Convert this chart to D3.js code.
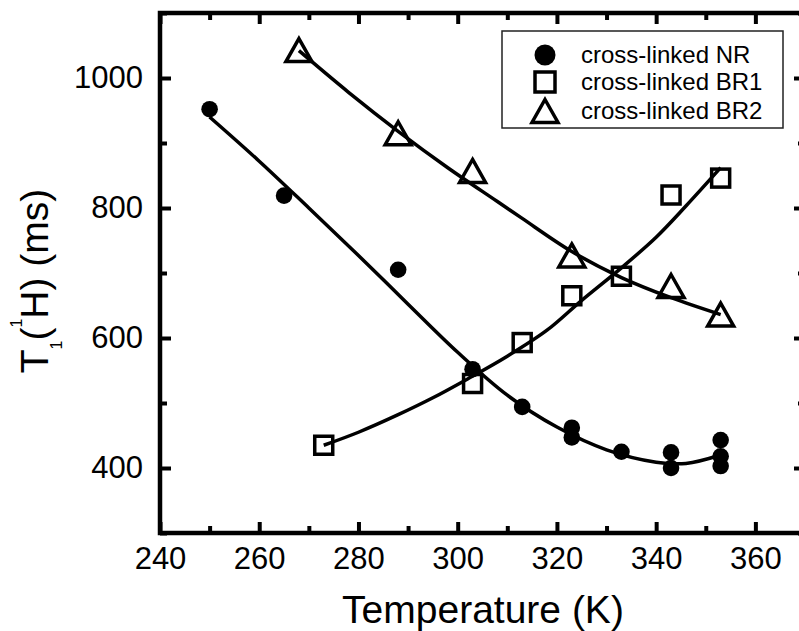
<!DOCTYPE html>
<html lang="en">
<head>
<meta charset="UTF-8">
<title>T1(1H) vs Temperature</title>
<script src="https://d3js.org/d3.v7.min.js"></script>
<style>
  body { margin: 0; background: #fff; }
  svg { display: block; font-family: "Liberation Sans", Arial, sans-serif; }
  .fit { fill: none; stroke: #000; stroke-width: 3.5; }
  .tick line { stroke: #000; }
</style>
</head>
<body>
<script>
// measured points (K, ms)
const nrTemp = [250, 265, 288, 303, 313, 323, 323, 333, 343, 343, 353, 353, 353];
const nrT1 = [952, 819, 705, 552, 494, 462, 447, 425, 424, 400, 443, 418, 403];
const br1Temp = [273, 303, 313, 323, 333, 343, 353];
const br1T1 = [435, 530, 593, 665, 695, 820, 846];
const br2Temp = [268, 288, 303, 323, 343, 353];
const br2T1 = [1043, 915, 857, 727, 680, 636];

// fitted curves
const nrFitTemp = [250, 260, 270, 280, 290, 300, 310, 320, 330, 340, 346, 353];
const nrFitT1 = [940, 872, 800, 727, 652, 578, 512, 463, 428, 409, 407, 420];
const br1FitTemp = [273, 280, 288, 295, 302, 310, 318, 325, 333, 340, 346, 353];
const br1FitT1 = [435, 455, 482, 508, 537, 572, 612, 658, 708, 755, 803, 862];
const br2FitTemp = [268, 278, 288, 298, 308, 313, 323, 333, 343, 353];
const br2FitT1 = [1042, 978, 918, 862, 810, 784, 733, 693, 662, 636];

const xMajor = [240, 260, 280, 300, 320, 340, 360];
const xMinor = [250, 270, 290, 310, 330, 350, 370];
const yMajor = [400, 600, 800, 1000];
const yMinor = [300, 500, 700, 900, 1100];

const legendLabels = ["cross-linked NR", "cross-linked BR1", "cross-linked BR2"];

const W = 799, H = 631;
const x = d3.scaleLinear().domain([240, 370]).range([160, 805]);
const y = d3.scaleLinear().domain([300, 1100]).range([533, 13]);

const svg = d3.select("body").append("svg")
  .attr("width", W).attr("height", H);

const zip = (a, b) => a.map((v, i) => [v, b[i]]);
const line = d3.line().x(d => x(d[0])).y(d => y(d[1])).curve(d3.curveCatmullRom);

// fit curves
[[nrFitTemp, nrFitT1], [br1FitTemp, br1FitT1], [br2FitTemp, br2FitT1]].forEach(([t, v]) => {
  svg.append("path").attr("class", "fit").attr("d", line(zip(t, v)));
});

// markers
const sq = 18, tw = 26, th = 23;
const triPath = `M0,${-th / 2}L${tw / 2},${th / 2}L${-tw / 2},${th / 2}Z`;

svg.append("g").selectAll("circle")
  .data(zip(nrTemp, nrT1))
  .join("circle")
  .attr("cx", d => x(d[0])).attr("cy", d => y(d[1]))
  .attr("r", 8.3).attr("fill", "#000");

svg.append("g").selectAll("rect")
  .data(zip(br1Temp, br1T1))
  .join("rect")
  .attr("x", d => x(d[0]) - sq / 2).attr("y", d => y(d[1]) - sq / 2)
  .attr("width", sq).attr("height", sq)
  .attr("fill", "none").attr("stroke", "#000").attr("stroke-width", 3.5);

svg.append("g").selectAll("path")
  .data(zip(br2Temp, br2T1))
  .join("path")
  .attr("transform", d => `translate(${x(d[0])},${y(d[1])})`)
  .attr("d", triPath)
  .attr("fill", "none").attr("stroke", "#000").attr("stroke-width", 3.5)
  .attr("stroke-linejoin", "miter");

// axes: ticks point inward
function ticks(axis, vals, size, transform, labels) {
  const g = svg.append("g").attr("transform", transform)
    .call(axis.tickValues(vals).tickSize(-size).tickSizeOuter(0)
      .tickFormat(labels ? d3.format("d") : ""));
  g.select(".domain").remove();
  g.selectAll(".tick line").attr("stroke-width", 4);
  return g;
}
const bottom = ticks(d3.axisBottom(x).tickPadding(14), xMajor, 11, "translate(0,533)", true);
ticks(d3.axisBottom(x), xMinor, 7, "translate(0,533)", false);
ticks(d3.axisTop(x), xMajor, 11, "translate(0,13)", false);
ticks(d3.axisTop(x), xMinor, 7, "translate(0,13)", false);
const left = ticks(d3.axisLeft(y).tickPadding(17), yMajor, 11, "translate(160,0)", true);
ticks(d3.axisLeft(y), yMinor, 7, "translate(160,0)", false);
ticks(d3.axisRight(y), yMajor, 11, "translate(805,0)", false);
ticks(d3.axisRight(y), yMinor, 7, "translate(805,0)", false);

bottom.selectAll("text").attr("font-size", 31).attr("fill", "#000")
  .attr("font-family", "Liberation Sans, Arial, sans-serif");
left.selectAll("text").attr("font-size", 31).attr("fill", "#000")
  .attr("font-family", "Liberation Sans, Arial, sans-serif");

// frame
svg.append("rect")
  .attr("x", x(240)).attr("y", y(1100))
  .attr("width", x(370) - x(240)).attr("height", y(300) - y(1100))
  .attr("fill", "none").attr("stroke", "#000").attr("stroke-width", 4.5);

// axis titles
svg.append("text")
  .attr("x", 483).attr("y", 623)
  .attr("text-anchor", "middle").attr("font-size", 39)
  .text("Temperature (K)");

const yt = svg.append("text")
  .attr("transform", "translate(48,281) rotate(-90)")
  .attr("text-anchor", "middle").attr("font-size", 39);
yt.append("tspan").text("T");
yt.append("tspan").attr("font-size", 16).attr("dy", 14).text("1");
yt.append("tspan").attr("dy", -14).text("(");
yt.append("tspan").attr("font-size", 16).attr("dy", -26).text("1");
yt.append("tspan").attr("dy", 26).text("H) (ms)");

// legend
const lg = svg.append("g");
lg.append("rect")
  .attr("x", 502).attr("y", 31).attr("width", 281).attr("height", 97)
  .attr("fill", "#fff").attr("stroke", "#222").attr("stroke-width", 1.5);
const rowY = [55, 82, 111];
lg.append("circle").attr("cx", 545).attr("cy", rowY[0]).attr("r", 10.5).attr("fill", "#000");
lg.append("rect").attr("x", 545 - 10).attr("y", rowY[1] - 10).attr("width", 20).attr("height", 20)
  .attr("fill", "none").attr("stroke", "#000").attr("stroke-width", 3.5);
lg.append("path").attr("transform", `translate(545,${rowY[2]})`).attr("d", triPath)
  .attr("fill", "none").attr("stroke", "#000").attr("stroke-width", 3.5);
lg.selectAll("text.lab")
  .data(legendLabels)
  .join("text").attr("class", "lab")
  .attr("x", 581).attr("y", (d, i) => rowY[i]).attr("dy", "0.35em")
  .attr("font-size", 24)
  .text(d => d);
</script>
</body>
</html>
